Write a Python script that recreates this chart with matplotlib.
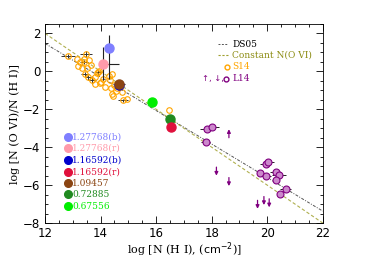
import matplotlib
matplotlib.use('Agg')
import matplotlib.pyplot as plt
import numpy as np

# S14 sample (orange open circles)
s14_x = [13.14, 13.25, 13.40, 13.57, 13.19, 13.32, 13.52, 13.64, 13.80, 13.86,
         13.80, 13.95, 14.00, 14.10, 14.30, 14.34, 14.15, 14.37, 14.45, 14.55,
         14.48, 14.40, 14.58, 14.76, 14.94, 16.47, 13.98, 14.41]
s14_y = [0.63, 0.49, 0.63, 0.58, 0.28, 0.17, 0.19, 0.32, -0.30, -0.10,
         -0.68, 0.00, -0.58, -0.42, -0.26, -0.47, -0.84, -0.90, -1.30, -1.05,
         -0.74, -0.12, -0.90, -1.09, -1.47, -2.02, -0.63, -1.22]
# S14 detections with error bars
s14e_x = [12.82, 13.47, 13.40, 13.44, 13.55, 13.70, 14.79, 13.90]
s14e_y = [0.79, 0.93, 0.50, -0.16, -0.32, -0.47, -1.53, -0.05]
s14e_xerr = [0.25, 0.22, 0.15, 0.15, 0.12, 0.12, 0.18, 0.10]
s14e_yerr = [0.10, 0.15, 0.12, 0.15, 0.15, 0.20, 0.08, 0.12]

# L14 sample (purple)
l14_x = [17.82, 18.00, 17.78, 19.95, 20.03, 19.73, 19.94, 20.30, 20.42, 20.33, 20.66, 20.45]
l14_y = [-3.02, -2.93, -3.75, -4.86, -4.77, -5.35, -5.53, -5.30, -5.44, -5.74, -6.21, -6.49]
l14_xerr = [0.25, 0.25, 0.15, 0.20, 0.20, 0.10, 0.20, 0.20, 0.25, 0.10, 0.20, 0.05]
l14_yerr = [0.12, 0.15, 0.10, 0.12, 0.15, 0.08, 0.15, 0.12, 0.15, 0.10, 0.10, 0.05]
l14_low_x = [18.62]
l14_low_y = [-3.50]
l14_up_x = [18.17, 18.62, 19.65, 19.88, 20.07]
l14_up_y = [-5.05, -5.60, -6.80, -6.60, -6.72]

# highlighted absorbers
abs_labels = ['1.27768(b)', '1.27768(r)', '1.16592(b)', '1.16592(r)', '1.09457', '0.72885', '0.67556']
abs_colors = ['#7f7fff', '#ff9aaa', '#0000cc', '#e0103c', '#8b4513', '#208a20', '#00ee00']
abs_x = [14.30, 14.10, 14.68, 16.53, 14.67, 16.51, 15.86]
abs_y = [1.21, 0.40, -0.72, -2.93, -0.68, -2.53, -1.60]
abs_xerr_lo = [0.0, 0.0, 0.10, 0.0, 0.20, 0.0, 0.0]
abs_xerr_hi = [0.0, 0.55, 0.10, 0.0, 0.20, 0.0, 0.0]
abs_yerr_lo = [1.60, 0.85, 0.10, 0.0, 0.15, 0.0, 0.0]
abs_yerr_hi = [0.70, 0.88, 0.10, 0.0, 0.15, 0.0, 0.0]

# relations
ds05_a, ds05_b = 1.47, -0.884   # log ratio at logN=12 and slope
const_c = 14.0                  # log N(O VI)

PURPLE = '#800080'
arrow_len = 0.45

fig = plt.figure(figsize=(3.88, 2.6), dpi=100)
ax = fig.add_axes([0.116, 0.142, 0.716, 0.766])

xx = np.array([12, 22])
ax.plot(xx, ds05_a + ds05_b * (xx - 12), color='#555555', lw=0.7, ls=(0, (3, 1.5, 1, 1.5)))
ax.plot(xx, const_c - xx, color='#b0b050', lw=0.8, ls=(0, (3, 2)))

ax.errorbar(s14e_x, s14e_y, xerr=s14e_xerr, yerr=s14e_yerr, fmt='none', ecolor='#333333', elinewidth=0.7)
ax.plot(s14_x + s14e_x, s14_y + s14e_y, 'o', ms=4, mfc='none', mec='orange', mew=0.8)

ax.errorbar(l14_x, l14_y, xerr=l14_xerr, yerr=l14_yerr, fmt='none', ecolor='#222222', elinewidth=0.7)
ax.plot(l14_x, l14_y, 'o', ms=5, mfc='#cc88cc', mec=PURPLE, mew=0.8)
for x, y in zip(l14_low_x, l14_low_y):
    ax.annotate('', xy=(x, y + arrow_len), xytext=(x, y),
                arrowprops=dict(arrowstyle='-|>', lw=0.9, color=PURPLE, mutation_scale=5,
                                shrinkA=0, shrinkB=0))
for x, y in zip(l14_up_x, l14_up_y):
    ax.annotate('', xy=(x, y - arrow_len), xytext=(x, y),
                arrowprops=dict(arrowstyle='-|>', lw=0.9, color=PURPLE, mutation_scale=5,
                                shrinkA=0, shrinkB=0))

for i in range(len(abs_x)):
    if abs_xerr_lo[i] + abs_xerr_hi[i] + abs_yerr_lo[i] + abs_yerr_hi[i] > 0:
        ax.errorbar([abs_x[i]], [abs_y[i]],
                    xerr=[[abs_xerr_lo[i]], [abs_xerr_hi[i]]],
                    yerr=[[abs_yerr_lo[i]], [abs_yerr_hi[i]]],
                    fmt='none', ecolor='#222222', elinewidth=0.8)
order = [2, 4, 0, 1, 6, 5, 3]
for i in order:
    ax.plot(abs_x[i], abs_y[i], 'o', ms=6.5, color=abs_colors[i], mec=abs_colors[i])

# left legend for absorbers
rows = [0.432, 0.377, 0.317, 0.256, 0.201, 0.146, 0.085]
for lab, col, yr in zip(abs_labels, abs_colors, rows):
    ax.plot(0.082, yr, 'o', ms=5.5, color=col, transform=ax.transAxes, clip_on=False)
    ax.text(0.097, yr, lab, color=col, transform=ax.transAxes, va='center', ha='left',
            fontsize=6.5, family='DejaVu Serif')

# upper-right legend
ax.plot([0.622, 0.658], [0.899, 0.899], color='#555555', lw=0.7, ls=(0, (2, 1.5)), transform=ax.transAxes)
ax.text(0.673, 0.899, 'DS05', color='black', transform=ax.transAxes, va='center', fontsize=6.5, family='DejaVu Serif')
ax.plot([0.622, 0.658], [0.844, 0.844], color='#a0a030', lw=0.8, ls=(0, (2, 1.5)), transform=ax.transAxes)
ax.text(0.673, 0.844, 'Constant N(O VI)', color='#8b8b10', transform=ax.transAxes, va='center', fontsize=6.5, family='DejaVu Serif')
ax.plot(0.655, 0.784, 'o', ms=3.5, mfc='none', mec='orange', transform=ax.transAxes)
ax.text(0.673, 0.784, 'S14', color='orange', transform=ax.transAxes, va='center', fontsize=6.5, family='DejaVu Serif')
ax.text(0.605, 0.724, '\u2191, \u2193,', color=PURPLE, transform=ax.transAxes, va='center', ha='center',
        fontsize=6, family='DejaVu Sans')
ax.plot(0.652, 0.724, 'o', ms=3.5, mfc='none', mec=PURPLE, transform=ax.transAxes)
ax.text(0.673, 0.724, 'L14', color=PURPLE, transform=ax.transAxes, va='center', fontsize=6.5, family='DejaVu Serif')

ax.set_xlim(12, 22)
ax.set_ylim(-8, 2.5)
ax.set_xticks([12, 14, 16, 18, 20, 22])
ax.set_yticks([-8, -6, -4, -2, 0, 2])
ax.set_yticklabels(['\u22128', '\u22126', '\u22124', '\u22122', '0', '2'])
ax.set_xticks(np.arange(12, 22.01, 0.5), minor=True)
ax.set_yticks(np.arange(-8, 2.51, 0.5), minor=True)
ax.tick_params(which='both', direction='in', top=True, right=True, labelsize=8.5, width=0.6)
ax.tick_params(axis='x', pad=3)
ax.tick_params(which='major', length=5)
ax.tick_params(which='minor', length=2.5)
for s in ax.spines.values():
    s.set_linewidth(0.6)

ax.set_xlabel(r'log [N (H I), ($\mathrm{cm}^{-2}$)]', fontsize=8, family='DejaVu Serif', labelpad=0)
ax.set_ylabel('log [N (O VI)/N (H I)]', fontsize=8, family='DejaVu Serif', labelpad=2)

fig.savefig('out.png', dpi=100)
